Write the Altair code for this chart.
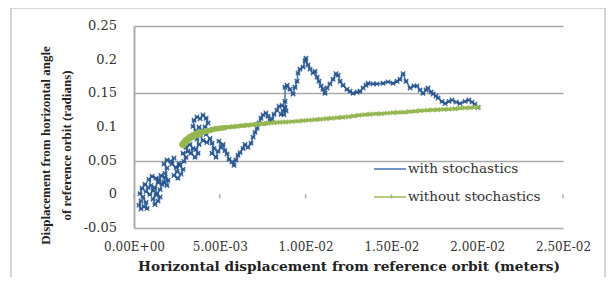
import altair as alt
import pandas as pd

# ---- data ----
series_names = ["with stochastics", "without stochastics"]

# x values in units of 1e-3 m
blue_x_mm = [0.41, 0.29, 0.41, 0.58, 0.76, 0.70, 0.52, 0.35, 0.47, 0.64, 0.82, 0.70, 0.93, 1.11, 0.99, 0.87,
             1.05, 1.28, 1.40, 1.22, 1.34, 1.52, 1.40, 1.22, 1.11, 1.28, 1.52, 1.63, 1.46, 1.57, 1.81, 1.75,
             1.92, 1.98, 1.81, 1.92, 1.75, 1.92, 2.16, 2.33, 2.21, 2.45, 2.62, 2.51, 2.33, 2.56, 2.74, 2.86,
             2.68, 2.91, 3.03, 2.86, 3.15, 3.03, 3.26, 3.44, 3.32, 3.56, 3.73, 3.61, 3.79, 3.67, 3.44, 3.61,
             3.44, 3.50, 3.67, 3.85, 4.02, 4.20, 4.31, 4.14, 4.37, 4.20, 3.96, 3.79, 3.85, 4.02, 4.25, 4.43,
             4.55, 4.66, 4.55, 4.78, 4.90, 5.07, 4.95, 5.19, 5.30, 5.42, 5.54, 5.71, 5.83, 5.94, 6.06, 6.18,
             6.35, 6.47, 6.64, 6.82, 6.94, 7.05, 7.17, 7.29, 7.40, 7.52, 7.69, 7.81, 7.93, 8.04, 8.16, 8.33,
             8.45, 8.63, 8.80, 8.68, 8.57, 8.74, 8.86, 8.80, 8.80, 8.92, 9.09, 9.27, 9.38, 9.50, 9.56, 9.67,
             9.85, 9.97, 10.02, 10.14, 10.26, 10.43, 10.55, 10.67, 10.78, 10.90, 11.01, 11.13, 11.25, 11.42,
             11.60, 11.77, 11.89, 12.01, 12.18, 12.41, 12.59, 12.76, 13.00, 13.17, 13.35, 13.52, 13.64, 13.93,
             14.16, 14.51, 14.80, 15.09, 15.33, 15.50, 15.68, 15.85, 16.09, 16.32, 16.49, 16.67, 16.84, 17.02,
             17.13, 17.31, 17.43, 17.60, 17.72, 17.95, 18.13, 18.36, 18.53, 18.77, 19.00, 19.29, 19.52, 19.70,
             19.87, 20.05]
blue_y = [-0.010, -0.016, -0.022, -0.018, -0.021, -0.012, -0.004, 0.001, 0.009, 0.015, 0.010, 0.004, 0.000,
          0.006, 0.013, 0.022, 0.027, 0.024, 0.018, 0.010, 0.001, -0.004, -0.010, -0.015, -0.007, -0.001,
          0.007, 0.015, 0.022, 0.028, 0.025, 0.018, 0.013, 0.021, 0.031, 0.039, 0.045, 0.051, 0.049, 0.054,
          0.045, 0.040, 0.046, 0.034, 0.028, 0.024, 0.030, 0.037, 0.043, 0.049, 0.055, 0.061, 0.064, 0.070,
          0.074, 0.068, 0.061, 0.055, 0.061, 0.067, 0.074, 0.082, 0.088, 0.094, 0.101, 0.110, 0.115, 0.112,
          0.118, 0.113, 0.106, 0.100, 0.095, 0.089, 0.094, 0.100, 0.088, 0.080, 0.077, 0.083, 0.076, 0.068,
          0.061, 0.055, 0.064, 0.070, 0.079, 0.074, 0.065, 0.060, 0.052, 0.048, 0.043, 0.051, 0.058, 0.062,
          0.068, 0.074, 0.070, 0.076, 0.085, 0.092, 0.098, 0.106, 0.113, 0.118, 0.121, 0.116, 0.109, 0.112,
          0.119, 0.125, 0.131, 0.132, 0.129, 0.124, 0.119, 0.118, 0.124, 0.138, 0.159, 0.162, 0.156, 0.149,
          0.159, 0.168, 0.180, 0.186, 0.189, 0.198, 0.202, 0.192, 0.186, 0.180, 0.183, 0.174, 0.168, 0.161,
          0.156, 0.150, 0.158, 0.164, 0.171, 0.179, 0.177, 0.168, 0.162, 0.156, 0.153, 0.150, 0.152, 0.153,
          0.158, 0.162, 0.165, 0.164, 0.164, 0.165, 0.167, 0.165, 0.168, 0.171, 0.179, 0.168, 0.158, 0.161,
          0.161, 0.155, 0.150, 0.155, 0.158, 0.152, 0.149, 0.146, 0.143, 0.138, 0.135, 0.138, 0.140, 0.137,
          0.135, 0.138, 0.140, 0.137, 0.134, 0.129]

green_x_mm = [2.85, 2.95, 3.05, 3.15, 3.25, 3.4, 3.55, 3.7, 3.85, 4.0, 4.2, 4.4, 4.6, 4.8, 5.0, 5.25, 5.5,
              5.75, 6.0, 6.3, 6.6, 6.9, 7.2, 7.5, 7.8, 8.15, 8.5, 8.85, 9.2, 9.55, 9.85, 10.2, 10.55, 10.85,
              11.2, 11.5, 11.85, 12.15, 12.5, 12.8, 13.1, 13.45, 13.75, 14.1, 14.4, 14.75, 15.1, 15.4, 15.75,
              16.05, 16.4, 16.7, 17.1, 17.4, 17.7, 18.05, 18.35, 18.7, 19.0, 19.3, 19.6, 20.05]
green_y = [0.074, 0.077, 0.080, 0.082, 0.084, 0.086, 0.088, 0.0895, 0.091, 0.092, 0.0937, 0.095, 0.0965,
           0.0975, 0.098, 0.099, 0.0998, 0.1005, 0.101, 0.102, 0.1027, 0.1035, 0.1042, 0.105, 0.1056, 0.1063,
           0.107, 0.1075, 0.108, 0.1087, 0.1094, 0.1102, 0.1109, 0.1116, 0.1123, 0.113, 0.1138, 0.1145,
           0.1153, 0.1163, 0.1175, 0.1183, 0.119, 0.1195, 0.1198, 0.1206, 0.1213, 0.1217, 0.122, 0.1228,
           0.1235, 0.1243, 0.125, 0.1254, 0.1257, 0.1261, 0.1265, 0.1272, 0.128, 0.1284, 0.1287, 0.1295]

x_ticks = [0, 0.005, 0.01, 0.015, 0.02, 0.025]
x_tick_labels = ["0.00E+00", "5.00E-03", "1.00E-02", "1.50E-02", "2.00E-02", "2.50E-02"]
y_ticks = [-0.05, 0, 0.05, 0.1, 0.15, 0.2, 0.25]
y_tick_labels = ["-0.05", "0", "0.05", "0.1", "0.15", "0.2", "0.25"]

# ---- tables ----
df_blue = pd.DataFrame({"x": [v / 1000 for v in blue_x_mm], "y": blue_y,
                        "series": series_names[0], "idx": list(range(len(blue_y)))})
df_green = pd.DataFrame({"x": [v / 1000 for v in green_x_mm], "y": green_y,
                         "series": series_names[1], "idx": list(range(len(green_y)))})
df_xticks = pd.DataFrame({"x": x_ticks})
df_yticks = pd.DataFrame({"y": y_ticks, "label": y_tick_labels})


def label_chain(values, labels, tol):
    expr = "''"
    for v, lab in reversed(list(zip(values, labels))):
        expr = f"abs(datum.value - ({v})) < {tol} ? '{lab}' : ({expr})"
    return expr


GRID = "#ababab"
x_enc = alt.X("x:Q", scale=alt.Scale(domain=[0, 0.025], nice=False, zero=False),
              axis=alt.Axis(values=x_ticks, labelExpr=label_chain(x_ticks, x_tick_labels, 0.001),
                            grid=False, ticks=False, domain=False,
                            labelOverlap=False, labelBound=False, labelFlush=False,
                            labelFont="DejaVu Serif", labelFontSize=12, labelColor="#333333",
                            labelPadding=13,
                            title="Horizontal displacement from reference orbit (meters)",
                            titleFont="DejaVu Serif", titleFontWeight="bold", titleFontSize=13.7,
                            titleColor="#222222", titlePadding=7))
y_enc = alt.Y("y:Q", scale=alt.Scale(domain=[-0.05, 0.25], nice=False, zero=False),
              axis=alt.Axis(values=y_ticks, labels=False,
                            grid=True, gridColor=GRID, gridWidth=1.5, ticks=False, domain=True,
                            domainColor=GRID, domainWidth=2,
                            title=["Displacement from horizontal angle", "of reference orbit (radians)"],
                            titleFont="Liberation Serif", titleFontWeight="bold", titleFontSize=13,
                            titleColor="#222222", titleX=-89, titleY=119, titleAlign="center",
                            titleBaseline="middle", titleLineHeight=21))

color_enc = alt.Color("series:N",
                      scale=alt.Scale(domain=series_names, range=["#3f74b1", "#9bbb59"]),
                      legend=alt.Legend(title=None, orient="none", legendX=239, legendY=126,
                                        symbolType="stroke", symbolSize=1024, symbolStrokeWidth=1.5,
                                        labelFont="DejaVu Serif", labelFontSize=13.5,
                                        labelColor="#333333", rowPadding=4, labelOffset=1))

star = "M-1,-1L1,1M1,-1L-1,1M-1,0L1,0"

border = alt.Chart(pd.DataFrame({"a": [0]})).mark_rect(
    fillOpacity=0, stroke="#c9c9c9", strokeWidth=1.5
).encode(x=alt.value(-123), x2=alt.value(471), y=alt.value(-18), y2=alt.value(265))

tick_marks = alt.Chart(df_xticks).mark_rule(color=GRID, strokeWidth=1.5).encode(
    x=x_enc, y=alt.datum(0), y2=alt.datum(-0.006))

y_labels = alt.Chart(df_yticks).mark_text(
    align="right", baseline="middle", font="DejaVu Serif", fontSize=13, color="#333333"
).encode(x=alt.value(-17), y=y_enc, text="label:N")

blue_line = alt.Chart(df_blue).mark_line(strokeWidth=1.5).encode(
    x=x_enc, y=y_enc, order="idx:Q", color=color_enc)
blue_pts = alt.Chart(df_blue).mark_point(shape=star, size=20, filled=False, strokeWidth=1.3,
                                         color="#28558c", opacity=0.9).encode(x=x_enc, y=y_enc)
green_line = alt.Chart(df_green).mark_line(strokeWidth=3).encode(
    x=x_enc, y=y_enc, order="idx:Q", color=color_enc)


def green_band(last_idx, width):
    return alt.Chart(df_green).transform_filter(alt.datum.idx <= last_idx).mark_line(
        strokeWidth=width, strokeCap="round", color="#9bbb59").encode(x=x_enc, y=y_enc, order="idx:Q")


green_pts = alt.Chart(df_green).mark_point(shape=star, size=20, filled=False, strokeWidth=1.3,
                                           color="#92b550", opacity=0.9).encode(x=x_enc, y=y_enc)

chart = alt.layer(border, tick_marks, y_labels, blue_line, blue_pts, green_line,
                  green_band(24, 4), green_band(15, 5.5), green_band(8, 7.5),
                  green_pts).properties(
    width=429, height=202,
    padding={"left": 126, "top": 18, "right": 45, "bottom": 49},
    autosize=alt.AutoSizeParams(type="none"),
    background="white",
).configure_view(stroke=None)

chart.save("out.html", embed_options={"renderer": "svg", "actions": False})
